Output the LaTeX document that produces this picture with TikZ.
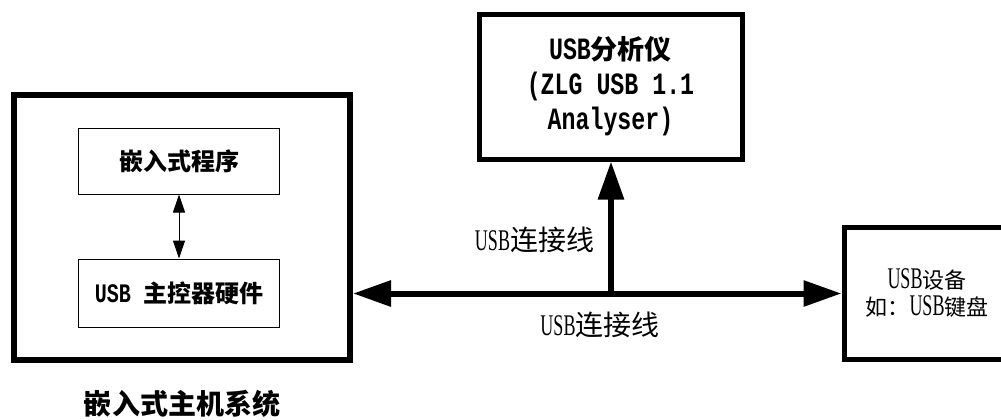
\documentclass[tikz,border=0pt]{standalone}
\usepackage{fontspec}
\usetikzlibrary{arrows.meta}
\newfontfamily\cjk{Noto Sans CJK SC}
\newfontfamily\lmono[FakeStretch=0.75]{Liberation Mono}
\newfontfamily\lser[FakeStretch=0.6]{Liberation Serif}
% Latin runs: condensed monospace (bold) and condensed serif
\newcommand\mono[2]{{\lmono\bfseries\fontsize{#1}{#1}\selectfont #2}}
\newcommand\seri[2]{{\lser\fontsize{#1}{#1}\selectfont #2}}

\begin{document}
\begin{tikzpicture}[x=1bp,y=-1bp,
  heavybox/.style={draw, line width=6bp, inner sep=0pt, align=center},
  midbox/.style={draw, line width=5bp, inner sep=0pt, align=center},
  thinbox/.style={draw, line width=1bp, inner sep=0pt, minimum width=200bp, align=center},
  boldtext/.style={font=\cjk\bfseries\fontsize{#1}{#1}\selectfont},
  plaintext/.style={font=\cjk\fontsize{#1}{#1}\selectfont},
  bigtip/.tip={Triangle[length=38bp,width=25bp]},
  smalltip/.tip={Triangle[length=18bp,width=12bp]},
  bus/.style={line width=6bp},
]
\useasboundingbox (0,0) rectangle (1001,419);
\clip (0,0) rectangle (1001,419);

% embedded host system
\node[heavybox, minimum width=336bp, minimum height=265bp] (host) at (182,227) {};
\node[thinbox, minimum height=66bp, boldtext=24bp] (prog) at (179,161) {嵌入式程序};
\node[thinbox, minimum height=68bp, boldtext=24bp] (hc) at (179,293) {\mono{26.7bp}{USB }主控器硬件};
\draw[line width=1bp, smalltip-smalltip] (prog.south) -- (hc.north);
\node[boldtext=28bp] (cap) at (182,404) {嵌入式主机系统};

% USB analyser
\node[midbox, minimum width=263bp, minimum height=145bp,
      font=\cjk\bfseries\fontsize{27bp}{35bp}\selectfont] (ana) at (610.5,86.5)
  {\mono{31bp}{USB}分析仪\\\mono{31bp}{(ZLG USB 1.1}\\\mono{31bp}{Analyser)}};

% USB device (box runs past the right edge)
\node[midbox, minimum width=166bp, minimum height=132bp,
      font=\cjk\fontsize{22bp}{27bp}\selectfont] (dev) at (927,293)
  {\seri{30bp}{USB}设备\\如：\seri{30bp}{USB}键盘};

% cables
\coordinate (J) at (611,293.5);
\draw[bus, bigtip-bigtip] (host.east |- J) -- (dev.west |- J);
\draw[bus, -bigtip] (J) -- (J |- ana.south);

\node[plaintext=28bp] (lab1) at (534.5,240) {\seri{30bp}{USB}连接线};
\node[plaintext=28bp] (lab2) at (600,325) {\seri{30bp}{USB}连接线};
\end{tikzpicture}
\end{document}
